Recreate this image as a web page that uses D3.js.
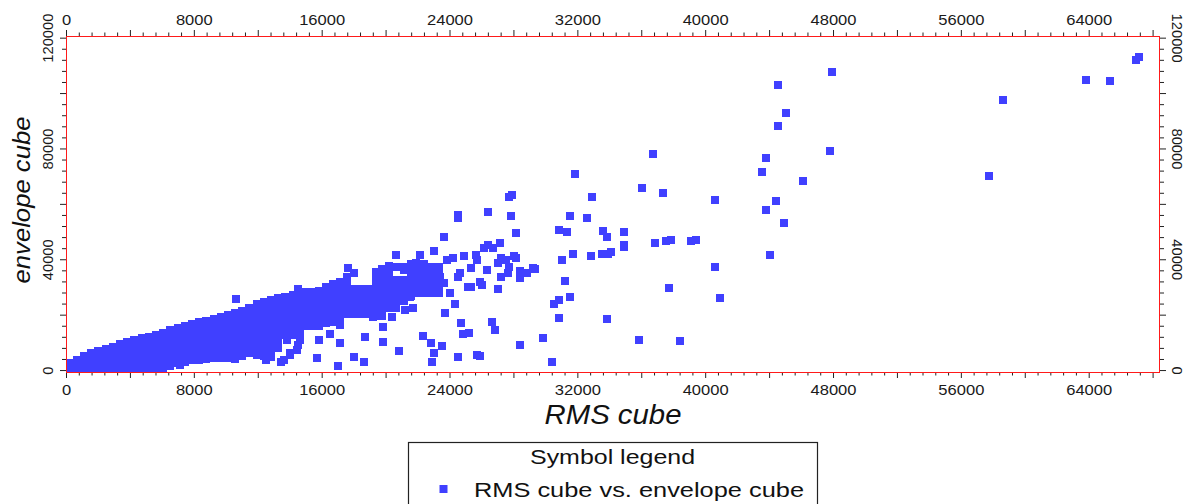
<!DOCTYPE html>
<html>
<head>
<meta charset="utf-8">
<script src="https://cdn.jsdelivr.net/npm/d3@7/dist/d3.min.js"></script>
<style>
  body { margin: 0; background: #fff; }
  svg { display: block; }
</style>
</head>
<body>
<svg id="chart" width="1197" height="504"></svg>
<script>
// dense part of the cloud, read slice by slice (one RMS value, several envelope values)
const coreRms = [250, 650, 1100, 1550, 2000, 2450, 2900, 3350, 3800, 4250, 4700, 5150, 5600, 6050, 6500, 6950,
    7400, 7850, 8300, 8750, 9200, 9650, 10100, 10550, 11000, 11450, 11900, 12350, 12800, 13250, 13700, 14150, 14600];
const coreEnvelope = [
    [600, 2900],
    [600, 2250, 3900],
    [600, 2850, 5100],
    [600, 2500, 4400, 6300],
    [600, 2750, 4900, 7050],
    [600, 3000, 5400, 7800],
    [600, 2600, 4600, 6600, 8600],
    [600, 2900, 5200, 7400, 9700],
    [600, 3050, 5500, 7950, 10400],
    [600, 2700, 4800, 6900, 9000, 11200],
    [600, 2800, 5000, 7200, 9400, 11600],
    [600, 2900, 5200, 7500, 9800, 12100],
    [600, 3000, 5500, 7900, 10400, 12800],
    [600, 2800, 5000, 7100, 9300, 11400, 13600],
    [1500, 3700, 5900, 8100, 10300, 12500, 14700],
    [2600, 4750, 6900, 9050, 11200, 13350, 15500],
    [3200, 5350, 7500, 9650, 11800, 13950, 16100],
    [3800, 5950, 8100, 10250, 12400, 14550, 16700],
    [3800, 6100, 8400, 10600, 12900, 15200, 17500],
    [4200, 6500, 8800, 11100, 13400, 15700, 18000],
    [4500, 6900, 9200, 11600, 13900, 16300, 18700],
    [4500, 6600, 8800, 10900, 13100, 15200, 17400, 19500],
    [4500, 6700, 8950, 11200, 13450, 15700, 17950, 20200],
    [4200, 6550, 8900, 11250, 13550, 15900, 18250, 20600],
    [5200, 7500, 9800, 12100, 14500, 16800, 19100, 21400],
    [6200, 8550, 10900, 13250, 15550, 17900, 20250, 22600],
    [5600, 7900, 10200, 12500, 14700, 17000, 19300, 21600, 23900],
    [5100, 7600, 10050, 12550, 15000, 17450, 19950, 22400, 24900],
    [5000, 7300, 9600, 11900, 14150, 16450, 18750, 21000, 23300, 25600],
    [8000, 10250, 12550, 14800, 17050, 19300, 21600, 23850, 26100],
    [13000, 15300, 17550, 19800, 22100, 24350, 26600],
    [13000, 15400, 17800, 20200, 22600, 25000, 27400],
    [14000, 16400, 18850, 21250, 23650, 26100, 28500]
];

// band continuing to the right of the dense part
const bandRms = [14950, 15390, 15830, 16270, 16700, 17140, 17580, 18020, 18460, 18900, 19340, 19770,
    20210, 20650, 21090, 21530, 21970, 22400, 22840, 23280];
const bandEnvelope = [
    [16100, 18600, 21000, 23500, 26000, 28500],
    [16100, 18600, 21000, 23500, 26000, 28500],
    [16100, 18600, 21150, 23650, 26200, 28700],
    [17200, 19800, 22350, 24950, 27500, 30100],
    [17400, 20150, 22900, 25600, 28350, 31100],
    [19000, 21600, 24200, 26800, 29400, 32000],
    [20400, 23050, 25700, 28300, 30950, 33600],
    [20400, 22700, 25000, 27200, 29500],
    [20400, 22700, 25000, 27200, 29500],
    [20400, 22700, 25000, 27200, 29500],
    [19700, 22350, 25050, 27700, 30350, 33050, 35700],
    [19700, 22150, 24600, 27000, 29450, 31900, 34350, 36800],
    [22600, 25150, 27650, 30200, 32700, 35250, 37800],
    [22600, 25200, 27800, 30400, 32600, 37500],
    [25100, 27700, 30300, 32600, 37500],
    [26900, 29200, 31500, 33800, 36200, 38500],
    [28000, 30600, 33300, 35900, 38500],
    [28000, 30600, 33300, 35900, 38500],
    [28000, 30400, 32800, 35100, 37500],
    [28000, 30400, 32800, 35100, 37500]
];

// single points
const scatterRms = [
    47900, 44500, 58600, 45000, 44500, 47800, 43800, 43500, 46100, 57700,
    44400, 43800, 44900, 44000, 40600, 40900, 63800, 65300, 66900, 67100,
    40600, 36700, 31800, 36000, 37300, 32900, 31500, 32600, 30800, 31300,
    33600, 33800, 34900, 34900, 34900, 36800, 37500, 37800, 39100, 39400,
    31700, 31000, 32800, 33500, 33900, 34100, 31200, 37700, 31500, 30800,
    30500, 30800, 33800, 29800, 35800, 38400, 30400, 27900, 27700, 26400,
    24500, 24500, 27800, 28100, 23600, 23000, 22100, 21900, 23800, 24200,
    24900, 25600, 25700, 26100, 26400, 27100, 26700, 28000, 27500, 27000,
    26300, 25300, 24600, 24500, 25100, 25300, 25900, 26000, 27200, 27600,
    28400, 29200, 28400, 27000, 23600, 24000, 23400, 23000, 22500, 22200,
    22600, 21500, 21300, 21100, 21700, 21200, 24300, 23700, 24700, 24800,
    25200, 26600, 26800, 22300, 22800, 23500, 23000, 22900, 24500, 25700,
    25900, 28400, 27700, 28100, 28800, 29300, 27200, 20600, 17600, 18000,
    14500, 13800, 14000, 15800, 16500, 17100, 15700, 17000, 18000, 18600,
    18700, 19800, 19800, 20800, 20400, 17100, 13400, 12500, 10600, 14500,
    7100, 13600, 14400, 19200, 14600, 14000
];
const scatterEnvelope = [
    107900, 103000, 97800, 93100, 88400, 79300, 76900, 71600, 68500, 70200,
    61200, 57800, 53200, 41700, 37500, 26100, 104800, 104600, 112100, 113200,
    61500, 78300, 70800, 65800, 64000, 62600, 55700, 55000, 50800, 50100,
    50500, 48200, 50200, 45400, 44700, 46200, 46800, 47100, 46600, 47100,
    42200, 39900, 41300, 42000, 42000, 42700, 32500, 29900, 26500, 25300,
    24100, 18900, 18600, 11900, 11200, 10500, 3200, 63400, 62600, 57400,
    56200, 55000, 55800, 49600, 48300, 43100, 41800, 38800, 40000, 40600,
    41400, 41800, 40000, 44200, 45400, 46200, 44200, 41200, 40000, 38800,
    36400, 37000, 35200, 33900, 30300, 30300, 32100, 30900, 33900, 35400,
    36100, 37000, 33400, 29400, 31600, 27900, 33900, 37500, 32700, 30300,
    27900, 26700, 31600, 36400, 22500, 21900, 24100, 20700, 17100, 13100,
    13500, 17700, 14700, 12300, 9900, 9000, 6300, 3000, 4800, 5700,
    5100, 9300, 37300, 40600, 35200, 36600, 40600, 41800, 37000, 35300,
    9300, 11100, 5700, 11100, 13100, 9900, 4500, 1700, 4800, 3200,
    12100, 10400, 15900, 6900, 19300, 16500, 3200, 3900, 25800, 29500,
    2100, 3900, 7500, 19400, 11100, 6400
];

const xLabelTicks = [0, 8000, 16000, 24000, 32000, 40000, 48000, 56000, 64000];
const yLabelTicks = [0, 40000, 80000, 120000];
const seriesName = 'RMS cube vs. envelope cube';

const points = [];
coreRms.forEach((x, i) => coreEnvelope[i].forEach(y => points.push([x, y])));
bandRms.forEach((x, i) => bandEnvelope[i].forEach(y => points.push([x, y])));
scatterRms.forEach((x, i) => points.push([x, scatterEnvelope[i]]));

const svg = d3.select('#chart');
const font = 'Liberation Sans, Arial, sans-serif';
const blue = '#4040ff';

const plotLeft = 66, plotRight = 1159, plotTop = 36, plotBottom = 372;
const x = d3.scaleLinear().domain([0, 68400]).range([plotLeft, plotRight]);
const y = d3.scaleLinear().domain([-700, 120600]).range([plotBottom, plotTop]);

// points
svg.append('g')
    .attr('shape-rendering', 'crispEdges')
    .selectAll('rect')
    .data(points)
    .enter().append('rect')
    .attr('x', d => Math.round(x(d[0]) - 3.5))
    .attr('y', d => Math.round(y(d[1]) - 3.5))
    .attr('width', 8)
    .attr('height', 8)
    .attr('fill', blue);

// tick marks (major and minor) on all four sides
function ticks(axisFn, scale, values, size, transform) {
    svg.append('g')
        .attr('transform', transform)
        .call(axisFn(scale).tickValues(values).tickSize(size).tickFormat(''))
        .call(g => g.select('.domain').remove())
        .selectAll('line').attr('stroke', '#222');
}
const xMajor = d3.range(0, 68001, 4000), xMinor = d3.range(0, 68400, 800).filter(v => v % 4000);
const yMajor = d3.range(0, 120001, 20000), yMinor = d3.range(0, 120001, 4000).filter(v => v % 20000);
ticks(d3.axisBottom, x, xMajor, 6, `translate(0,${plotBottom})`);
ticks(d3.axisBottom, x, xMinor, 3.5, `translate(0,${plotBottom})`);
ticks(d3.axisTop, x, xMajor, 6, `translate(0,${plotTop})`);
ticks(d3.axisTop, x, xMinor, 3.5, `translate(0,${plotTop})`);
ticks(d3.axisLeft, y, yMajor, 6, `translate(${plotLeft},0)`);
ticks(d3.axisLeft, y, yMinor, 4, `translate(${plotLeft},0)`);
ticks(d3.axisRight, y, yMajor, 6, `translate(${plotRight + 1},0)`);
ticks(d3.axisRight, y, yMinor, 4, `translate(${plotRight + 1},0)`);

// red frame
svg.append('rect')
    .attr('x', plotLeft + 0.5).attr('y', plotTop + 0.5)
    .attr('width', plotRight - plotLeft).attr('height', plotBottom - plotTop)
    .attr('fill', 'none').attr('stroke', '#ff1a1a').attr('stroke-width', 1);

// tick labels
[395, 25].forEach(by => {
    svg.append('g').selectAll('text')
        .data(xLabelTicks)
        .enter().append('text')
        .attr('x', d => x(d) + 0.5)
        .attr('y', by)
        .attr('text-anchor', 'middle')
        .attr('font-family', font)
        .attr('font-size', 14)
        .attr('fill', '#1a1a1a')
        .attr('textLength', d => String(d).length * 9.2)
        .attr('lengthAdjust', 'spacingAndGlyphs')
        .text(d => d);
});
[[53, -90], [1172, 90]].forEach(([bx, rot]) => {
    svg.append('g').selectAll('text')
        .data(yLabelTicks)
        .enter().append('text')
        .attr('transform', d => `translate(${bx},${y(d) + 0.5}) rotate(${rot})`)
        .attr('text-anchor', 'middle')
        .attr('font-family', font)
        .attr('font-size', 15.5)
        .attr('fill', '#1a1a1a')
        .attr('textLength', d => String(d).length * 8.2)
        .attr('lengthAdjust', 'spacingAndGlyphs')
        .text(d => d);
});

// axis titles
svg.append('text')
    .attr('x', 613).attr('y', 424)
    .attr('text-anchor', 'middle')
    .attr('font-family', font).attr('font-style', 'italic').attr('font-size', 28)
    .attr('textLength', 137).attr('lengthAdjust', 'spacingAndGlyphs')
    .attr('fill', '#111')
    .text('RMS cube');
svg.append('text')
    .attr('transform', 'translate(29.5,200) rotate(-90)')
    .attr('text-anchor', 'middle')
    .attr('font-family', font).attr('font-style', 'italic').attr('font-size', 23)
    .attr('textLength', 167).attr('lengthAdjust', 'spacingAndGlyphs')
    .attr('fill', '#111')
    .text('envelope cube');

// legend
const legend = svg.append('g');
legend.append('rect')
    .attr('x', 408.5).attr('y', 442.5).attr('width', 409).attr('height', 90)
    .attr('fill', '#fff').attr('stroke', '#222').attr('stroke-width', 1.2);
legend.append('text')
    .attr('x', 612.5).attr('y', 463.5)
    .attr('text-anchor', 'middle')
    .attr('font-family', font).attr('font-size', 21)
    .attr('textLength', 165).attr('lengthAdjust', 'spacingAndGlyphs')
    .attr('fill', '#111')
    .text('Symbol legend');
legend.append('rect')
    .attr('x', 439.5).attr('y', 485).attr('width', 8).attr('height', 8)
    .attr('fill', blue);
legend.append('text')
    .attr('x', 474).attr('y', 496.5)
    .attr('font-family', font).attr('font-size', 20)
    .attr('textLength', 330).attr('lengthAdjust', 'spacingAndGlyphs')
    .attr('fill', '#111')
    .text(seriesName);
</script>
</body>
</html>
